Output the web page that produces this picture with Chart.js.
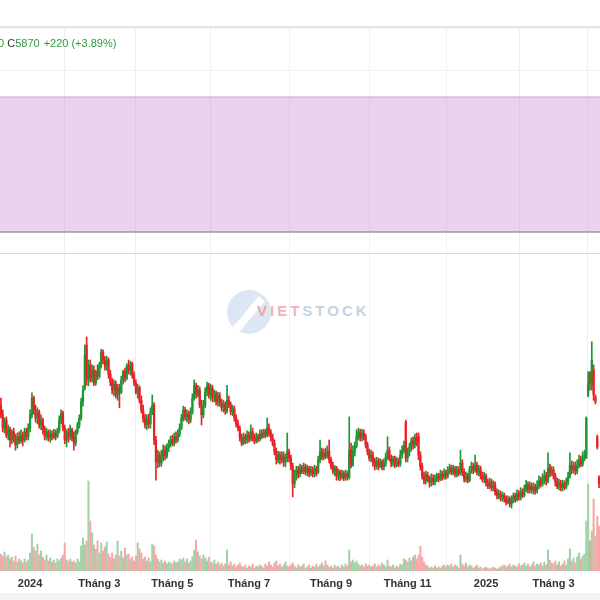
<!DOCTYPE html>
<html>
<head>
<meta charset="utf-8">
<script src="https://cdn.jsdelivr.net/npm/chart.js@4.4.1/dist/chart.umd.min.js"></script>
<style>
	html, body { margin: 0; padding: 0; background: #fff; }
	#wrap { position: relative; width: 600px; height: 600px; overflow: hidden; font-family: "Liberation Sans", Arial, sans-serif; }
	#chart { position: absolute; left: 0; top: 0; z-index: 1; }
	#topbar { position: absolute; left: 0; top: 0; width: 600px; height: 26px; background: #fff; border-bottom: 2px solid #e2e2e7; box-shadow: 0 1px 2px rgba(0,0,0,0.04); z-index: 2; }
	#legend { position: absolute; left: -2px; top: 37px; font-size: 11px; line-height: 13px; white-space: nowrap; z-index: 2; }
	#legend .g { color: #2e9a3c; }
	#legend .k { color: #333; }
	#legend .gap { margin-left: 4px; }
	#sep { position: absolute; left: 0; top: 253px; width: 600px; height: 1px; background: #dadada; z-index: 2; }
	#bottom { position: absolute; left: 0; top: 593px; width: 600px; height: 7px; background: #f3f3f3; z-index: 2; }
	#mark { position: absolute; left: 227px; top: 290px; width: 150px; height: 46px; z-index: 0; }
	#mark .globe { position: absolute; left: 0; top: 0; width: 44px; height: 44px; border-radius: 50%; background: #dde7f3; overflow: hidden; }
	#mark .arrow { position: absolute; left: 18px; top: 4px; width: 8px; height: 40px; background: #fff; transform: rotate(40deg); }
	#mark .word { position: absolute; left: 30px; top: 12px; font-size: 15px; font-weight: bold; letter-spacing: 3px; }
	#mark .v { color: #eea3a6; }
	#mark .iet { color: #f0b3b6; }
	#mark .stock { color: #c2d2e8; }
</style>
</head>
<body>
<div id="wrap">
	<div id="mark"><div class="globe"><div class="arrow"></div></div><div class="word"><span class="v">V</span><span class="iet">IET</span><span class="stock">STOCK</span></div></div>
	<canvas id="chart" width="600" height="600"></canvas>
	<div id="topbar"></div>
	<div id="legend"><span class="g">0</span> <span class="k">C</span><span class="g">5870</span><span class="g gap">+220 (+3.89%)</span></div>
	<div id="sep"></div>
	<div id="bottom"></div>
</div>
<script>
// phien giao dich: 12/2023 -> 04/2025, moi phan tu la mot phien
const tickIdx = [16, 54, 94, 136, 181, 223, 266, 303];
const tickLabels = ['2024', 'Tháng 3', 'Tháng 5', 'Tháng 7', 'Tháng 9', 'Tháng 11', '2025', 'Tháng 3'];

const opens = [
	7340,7160,6910,7060,6780,6880,6690,6840,6730,6600, 6750,6670,6780,6690,6840,6750,6910,7160,7470,7250,
	7100,7210,6970,7060,6880,6760,6840,6730,6800,6750, 6820,6760,6860,7060,7190,6910,6690,6820,6750,6880,
	6730,6630,6840,6970,7100,7400,7660,8460,7810,8090, 7840,7990,7750,7960,7880,8090,8330,8180,8070,8180,
	7920,7770,7620,7730,7530,7660,7580,7810,7960,7840, 8070,7990,8110,7900,7750,7580,7660,7430,7250,7100,
	6970,7080,6990,7210,7340,6690,6280,6410,6260,6370, 6500,6390,6540,6620,6690,6630,6750,6690,6800,6910,
	7100,7250,7120,7170,7060,7210,7470,7700,7550,7620, 7340,7160,7340,7580,7700,7530,7660,7470,7550,7400,
	7510,7380,7290,7360,7230,7430,7340,7210,7270,7100, 6990,6910,6730,6630,6750,6690,6780,6710,6840,6730,
	6670,6750,6710,6800,6760,6840,6780,6910,6820,6730, 6630,6470,6320,6410,6320,6390,6280,6350,6470,6350,
	6200,5870,6020,6130,6060,6170,6110,6190,6090,6170, 6070,6130,6060,6150,6090,6320,6470,6370,6450,6390,
	6480,6320,6200,6110,6170,6020,6090,6000,6070,5980, 6060,6000,6500,6220,6470,6580,6760,6840,6730,6820,
	6750,6600,6470,6350,6410,6280,6200,6300,6200,6280, 6190,6260,6370,6500,6350,6260,6340,6220,6300,6240,
	6410,6500,7020,6350,6470,6560,6670,6600,6730,6760, 6410,6200,6020,5930,6040,5960,5890,5980,5910,5960,
	6020,5960,6060,6000,6070,6020,6110,6170,6090,6150, 6060,6130,6070,6260,6090,5960,6020,5940,6130,6200,
	6130,6220,6090,6150,6020,5960,6020,5890,5830,5910, 5800,5850,5720,5650,5680,5610,5660,5590,5530,5590,
	5500,5570,5650,5590,5680,5630,5720,5660,5780,5850, 5760,5830,5760,5810,5740,5830,5940,5870,5960,6020,
	5930,6170,6070,6130,6020,5910,5830,5890,5800,5870, 5810,5910,6020,6220,6130,6200,6110,6220,6320,6240,
	6350,6370,7530,7960,7710,7990,7490,6750,6000
];
const closes = [
	7160,6910,7060,6780,6880,6690,6840,6730,6600,6750, 6670,6780,6690,6840,6750,6910,7160,7470,7250,7100,
	7210,6970,7060,6880,6760,6840,6730,6800,6750,6820, 6760,6860,7060,7190,6910,6690,6820,6750,6880,6730,
	6630,6840,6970,7100,7400,7620,8270,7810,8090,7840, 7990,7750,7960,7880,8090,8330,8180,8070,8180,7920,
	7770,7620,7730,7530,7660,7580,7810,7960,7840,8070, 7990,8110,7900,7750,7580,7660,7430,7250,7100,6970,
	7080,6990,7210,7340,6690,6280,6410,6260,6370,6500, 6390,6540,6620,6690,6630,6750,6690,6800,6910,7100,
	7250,7120,7170,7060,7210,7470,7700,7550,7620,7340, 7160,7340,7580,7700,7530,7660,7470,7550,7400,7510,
	7380,7290,7360,7230,7430,7340,7210,7270,7100,6990, 6910,6730,6630,6750,6690,6780,6710,6840,6730,6670,
	6750,6710,6800,6760,6840,6780,6910,6820,6730,6630, 6470,6320,6410,6320,6390,6280,6350,6470,6350,6200,
	5870,6020,6130,6060,6170,6110,6190,6090,6170,6070, 6130,6060,6150,6090,6320,6470,6370,6450,6390,6480,
	6320,6200,6110,6170,6020,6090,6000,6070,5980,6060, 6000,6500,6220,6470,6580,6760,6840,6730,6820,6750,
	6600,6470,6350,6410,6280,6200,6300,6200,6280,6190, 6260,6370,6500,6350,6260,6340,6220,6300,6240,6410,
	6500,6600,6350,6470,6560,6670,6600,6730,6650,6410, 6200,6020,5930,6040,5960,5890,5980,5910,5960,6020,
	5960,6060,6000,6070,6020,6110,6170,6090,6150,6060, 6130,6070,6260,6090,5960,6020,5940,6130,6200,6130,
	6220,6090,6150,6020,5960,6020,5890,5830,5910,5800, 5850,5720,5650,5680,5610,5660,5590,5530,5590,5500,
	5570,5650,5590,5680,5630,5720,5660,5780,5850,5760, 5830,5760,5810,5740,5830,5940,5870,5960,6020,5930,
	6170,6070,6130,6020,5910,5830,5890,5800,5870,5810, 5910,6020,6220,6130,6200,6110,6220,6320,6240,6350,
	6410,7100,7750,7750,8180,7530,7400,6560,5870
];
const highs = [
	7470,7250,7100,7120,6970,6930,6880,6910,6800,6820, 6840,6880,6840,6910,6910,6990,7250,7570,7510,7340,
	7290,7250,7160,7100,6950,6910,6880,6880,6860,6890, 6880,6910,7140,7250,7230,6970,6880,6910,6970,6910,
	6840,6880,7020,7160,7470,7700,8460,8610,8180,8180, 8090,8070,7990,8090,8140,8380,8370,8250,8250,8220,
	7990,7840,7810,7790,7730,7730,7880,7990,8030,8110, 8180,8160,8140,7960,7810,7730,7700,7510,7340,7170,
	7160,7170,7290,7530,7380,6760,6500,6470,6500,6600, 6580,6620,6690,6760,6780,6820,6840,6880,6990,7170,
	7320,7300,7250,7230,7290,7550,7810,7750,7710,7680, 7430,7430,7660,7770,7750,7730,7710,7620,7600,7580,
	7570,7450,7430,7400,7710,7510,7400,7340,7320,7160, 7060,6950,6800,6820,6800,6860,6840,6970,6910,6800,
	6820,6800,6880,6880,6890,6890,7100,6990,6880,6800, 6690,6540,6480,6470,6470,6470,6430,6820,6520,6410,
	6260,6130,6200,6200,6240,6220,6260,6240,6220,6200, 6200,6190,6220,6200,6390,6690,6540,6520,6540,6580,
	6690,6370,6280,6220,6200,6150,6130,6130,6110,6130, 6110,7120,6630,6580,6650,6880,6910,6890,6890,6880,
	6800,6650,6520,6500,6470,6350,6370,6350,6340,6320, 6340,6450,6750,6560,6410,6390,6390,6370,6350,6500,
	6580,6670,7060,6540,6630,6730,6750,6800,6820,6820, 6470,6260,6090,6110,6090,6020,6060,6040,6040,6070,
	6070,6130,6110,6150,6130,6190,6240,6220,6220,6200, 6200,6190,6500,6320,6150,6090,6070,6200,6280,6260,
	6410,6280,6220,6200,6090,6090,6060,5960,5980,5960, 5930,5910,5780,5760,5740,5720,5700,5650,5650,5630,
	5650,5700,5700,5760,5740,5800,5780,5850,5940,5910, 5910,5890,5890,5870,5930,6020,6000,6060,6130,6090,
	6450,6240,6200,6190,6070,5980,5960,5940,5940,5930, 5980,6090,6450,6300,6280,6280,6320,6410,6390,6470,
	6500,7120,7960,7960,8520,8090,7530,6780,6020
];
const lows = [
	7100,6840,6820,6730,6690,6560,6620,6650,6500,6540, 6620,6630,6580,6650,6690,6690,6840,7100,7170,7020,
	6990,6910,6880,6800,6690,6690,6670,6650,6690,6710, 6690,6730,6820,6990,6860,6620,6560,6650,6690,6670,
	6500,6580,6800,6910,7060,7320,7620,7710,7700,7770, 7770,7700,7710,7810,7840,8030,8110,7990,7990,7840,
	7700,7550,7510,7470,7430,7290,7550,7730,7770,7810, 7920,7900,7840,7700,7550,7470,7380,7190,7020,6910,
	6880,6910,6910,7160,6600,5940,6170,6190,6200,6300, 6320,6350,6470,6560,6580,6580,6630,6650,6750,6880,
	7040,7060,7020,6990,7010,7170,7430,7470,7490,7290, 6970,7100,7290,7510,7470,7430,7400,7400,7340,7320,
	7320,7230,7210,7170,7190,7290,7160,7140,7040,6930, 6860,6670,6580,6600,6620,6630,6650,6670,6670,6620,
	6630,6650,6670,6710,6730,6730,6750,6760,6670,6580, 6410,6240,6260,6240,6260,6200,6190,6280,6280,6130,
	5630,5800,5940,5980,6000,6060,6060,6040,6020,6000, 6020,6000,6000,6020,6060,6260,6320,6320,6340,6350,
	6260,6150,6060,6020,5940,5940,5930,5960,5930,5940, 5940,5960,6170,6200,6390,6540,6690,6670,6670,6690,
	6540,6410,6300,6280,6200,6130,6150,6130,6170,6130, 6130,6200,6320,6300,6190,6200,6170,6190,6190,6200,
	6350,6450,6280,6280,6390,6480,6520,6540,6580,6320, 6130,5960,5870,5870,5910,5810,5830,5850,5850,5910,
	5910,5930,5940,5960,5960,5980,6060,6040,6040,6000, 6000,6020,6040,6020,5910,5910,5890,5910,6070,6060,
	6090,6040,6020,5960,5910,5890,5830,5780,5780,5740, 5740,5660,5590,5590,5550,5550,5530,5480,5500,5440,
	5420,5520,5530,5550,5570,5570,5610,5630,5720,5700, 5700,5700,5680,5680,5700,5780,5810,5830,5870,5850,
	5890,6000,6020,5960,5830,5780,5760,5740,5740,5760, 5780,5850,5980,6060,6070,6040,6060,6170,6190,6200,
	6300,6340,7490,7620,7620,7430,7360,6520,5800
];
// khoi luong, nghin co phieu
const volumes = [
	340,300,380,280,320,240,280,200,300,180, 240,200,160,240,180,220,360,740,480,400,
	540,320,400,280,220,320,200,260,180,220, 160,240,200,260,320,560,220,200,240,180,
	200,160,240,180,500,660,520,600,1800,1000, 760,520,440,600,360,560,400,480,580,340,
	280,360,240,320,600,300,400,260,460,320, 340,240,280,200,300,560,440,360,240,280,
	200,260,180,540,500,320,240,180,220,160, 200,140,180,160,140,200,160,180,240,220,
	260,180,240,160,200,280,420,620,380,300, 240,320,260,200,280,180,160,220,140,180,
	120,160,100,140,420,120,180,100,140,80, 120,160,100,80,120,60,100,80,140,60,
	100,80,120,100,60,140,100,180,120,80, 160,200,100,140,80,120,180,100,80,120,
	160,100,60,120,80,100,140,60,80,120, 60,100,80,140,80,120,160,100,200,120,
	80,100,60,120,80,100,60,120,80,140, 100,420,180,220,160,200,140,100,120,80,
	140,100,120,80,100,140,80,120,100,160, 120,80,220,100,80,120,60,100,80,140,
	120,240,220,180,260,200,280,320,240,320, 500,280,180,120,100,60,80,60,100,60,
	80,60,100,120,80,120,100,140,80,120, 100,60,320,140,100,160,80,120,100,60,
	80,120,60,80,40,60,80,60,40,60, 80,60,40,60,80,100,120,80,100,140,
	80,120,100,80,140,100,120,160,100,140, 80,120,180,100,140,120,160,100,180,120,
	420,220,160,140,200,120,180,100,140,200, 120,240,440,200,260,160,280,360,240,300,
	340,1000,1740,600,800,1440,700,1100,900
];
const bandUpper = 80;
const bandLower = 30;

const UP = '#1f9634', DOWN = '#ec1f27', REF = '#8d5b1f';
const VOL_UP = '#a1d1a7', VOL_DOWN = '#f5a7a9', VOL_REF = '#cfb392';

// mau theo gia dong cua phien truoc (xanh tang, do giam, nau dung gia)
const trend = closes.map((c, i) => {
	let ref = i > 0 ? closes[i - 1] : opens[i];
	return c > ref ? 1 : (c < ref ? -1 : 0);
});
const pick = (t, up, down, ref) => t > 0 ? up : (t < 0 ? down : ref);
const candleColors = trend.map(t => pick(t, UP, DOWN, REF));
const volColors = trend.map(t => pick(t, VOL_UP, VOL_DOWN, VOL_REF));

const xMin = -0.5;
const xMax = closes.length - 0.5;
const GRID = '#f0f0f0';
const zeroWidth = (scale) => { scale.width = 0; };

let data = {
	datasets: [
		{
			type: 'line',
			data: [{ x: xMin, y: bandUpper }, { x: xMax, y: bandUpper }],
			yAxisID: 'yBand',
			borderColor: '#c59fd2',
			borderWidth: 1,
			pointRadius: 0,
			fill: '+1',
			backgroundColor: 'rgba(190,110,205,0.3)',
			order: 5
		},
		{
			type: 'line',
			data: [{ x: xMin, y: bandLower }, { x: xMax, y: bandLower }],
			yAxisID: 'yBand',
			borderColor: '#a8939f',
			borderWidth: 1.5,
			pointRadius: 0,
			fill: false,
			order: 5
		},
		{
			type: 'bar',
			data: volumes.map((v, i) => ({ x: i, y: v })),
			yAxisID: 'yVol',
			backgroundColor: volColors,
			barThickness: 1.4,
			grouped: false,
			order: 3
		},
		{
			type: 'bar',
			data: closes.map((c, i) => ({ x: i, y: [lows[i], highs[i]] })),
			yAxisID: 'y',
			backgroundColor: candleColors,
			barThickness: 1,
			grouped: false,
			order: 2
		},
		{
			type: 'bar',
			data: closes.map((c, i) => ({ x: i, y: [opens[i], c] })),
			yAxisID: 'y',
			backgroundColor: candleColors,
			barThickness: 1.6,
			minBarLength: 1,
			grouped: false,
			order: 1
		}
	]
};

let options = {
	responsive: false,
	animation: false,
	devicePixelRatio: 1,
	layout: { padding: { top: 27, left: 0, right: 0, bottom: 0 } },
	plugins: {
		legend: { display: false },
		tooltip: { enabled: false }
	},
	scales: {
		x: {
			type: 'linear',
			min: xMin,
			max: xMax,
			offset: false,
			afterBuildTicks: (scale) => { scale.ticks = tickIdx.map(v => ({ value: v })); },
			afterFit: (scale) => { scale.height = 29; },
			ticks: {
				autoSkip: false,
				maxRotation: 0,
				padding: 6,
				color: '#333',
				font: { family: '"Liberation Sans", Arial, sans-serif', size: 11, weight: 'bold' },
				callback: (v) => tickLabels[tickIdx.indexOf(v)]
			},
			grid: { color: GRID, drawTicks: false },
			border: { display: false }
		},
		y: {
			type: 'linear',
			position: 'right',
			min: 4248,
			max: 14386,
			ticks: { display: false, stepSize: 500 },
			grid: {
				drawTicks: false,
				color: (ctx) => (ctx.tick && ctx.tick.value % 500 === 0 && ctx.tick.value <= 10000) ? GRID : 'transparent'
			},
			border: { display: false },
			afterFit: zeroWidth
		},
		yBand: {
			type: 'linear',
			position: 'right',
			min: -95.56,
			max: 105.93,
			ticks: { display: false, stepSize: 10 },
			grid: {
				drawTicks: false,
				color: (ctx) => (ctx.tick && ctx.tick.value === 90) ? GRID : 'transparent'
			},
			border: { display: false },
			afterFit: zeroWidth
		},
		yVol: {
			display: false,
			min: 0,
			max: 10880
		}
	}
};

new Chart(document.getElementById('chart'), { type: 'bar', data: data, options: options });
</script>
</body>
</html>
